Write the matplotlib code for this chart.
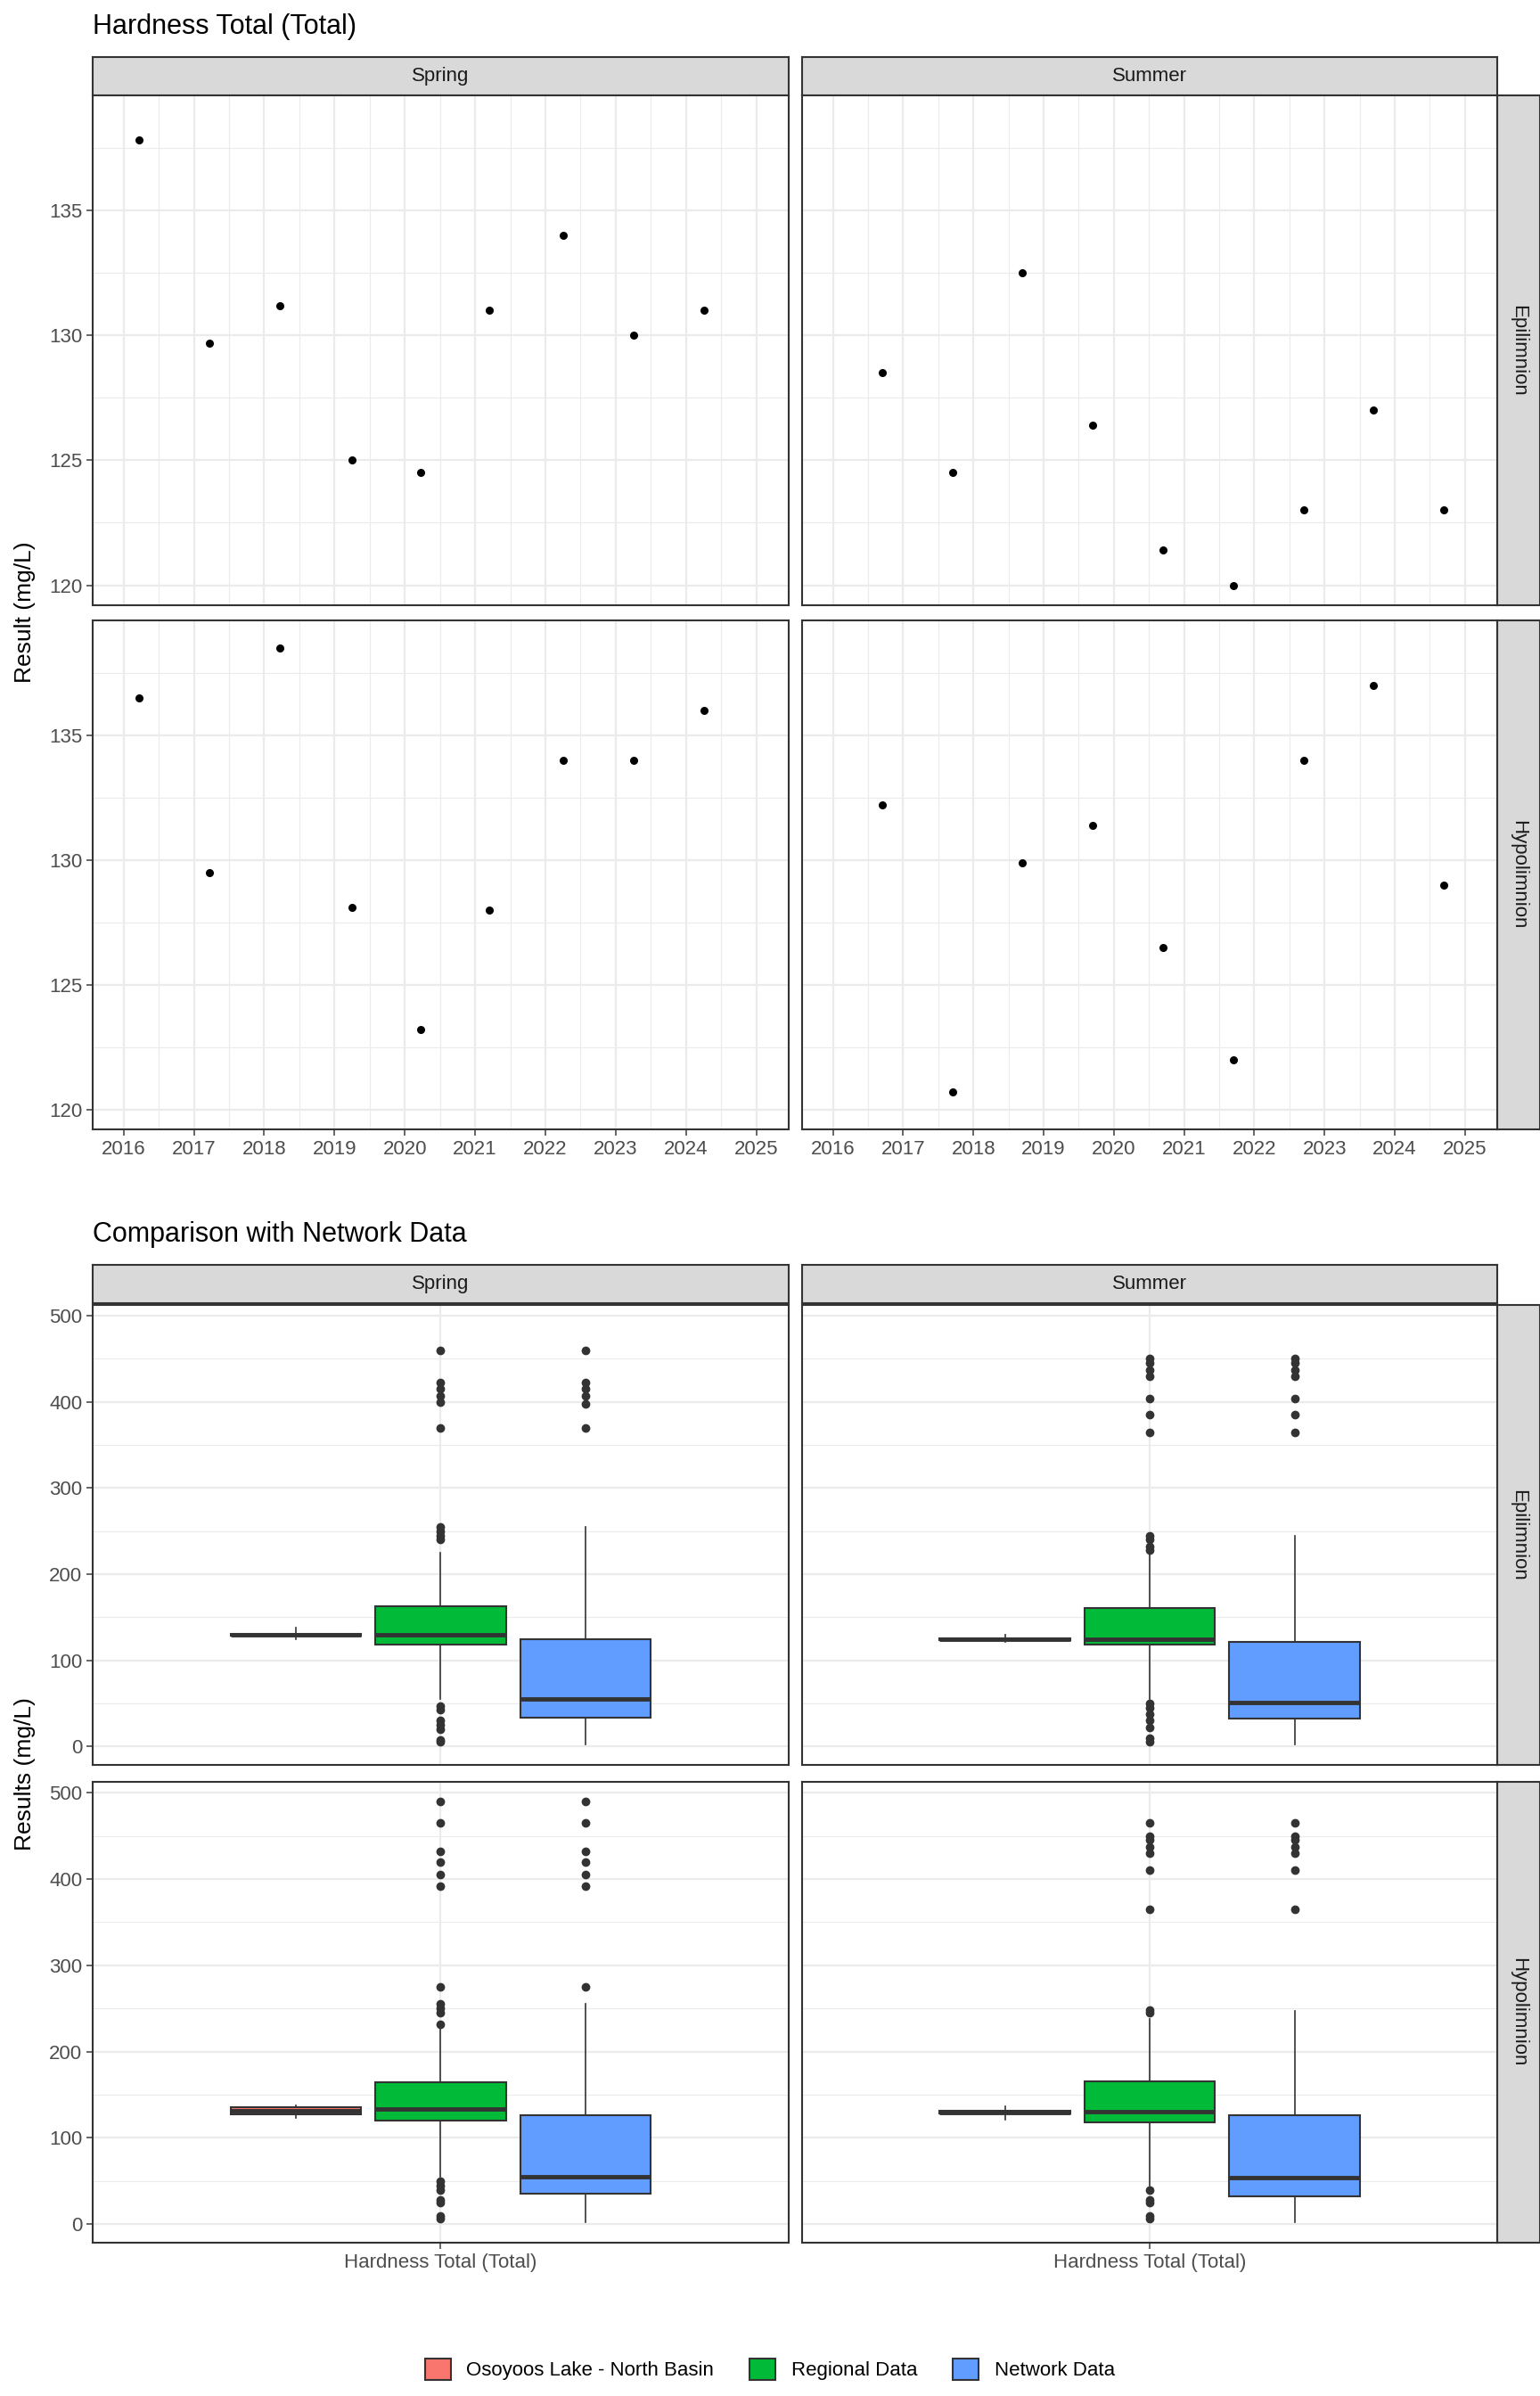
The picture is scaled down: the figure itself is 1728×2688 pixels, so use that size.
import matplotlib.pyplot as plt
import matplotlib.patches as mpatches
import numpy as np

seasons = ["Spring", "Summer"]
depths = ["Epilimnion", "Hypolimnion"]

spring_dates = [2016.22, 2017.22, 2018.22, 2019.25, 2020.22, 2021.2, 2022.25, 2023.25, 2024.25]
summer_dates = [2016.7, 2017.7, 2018.7, 2019.7, 2020.7, 2021.7, 2022.7, 2023.7, 2024.7]

hard_spring_epi = [137.8, 129.7, 131.2, 125.0, 124.5, 131.0, 134.0, 130.0, 131.0]
hard_summer_epi = [128.5, 124.5, 132.5, 126.4, 121.4, 120.0, 123.0, 127.0, 123.0]
hard_spring_hypo = [136.5, 129.5, 138.5, 128.1, 123.2, 128.0, 134.0, 134.0, 136.0]
hard_summer_hypo = [132.2, 120.7, 129.9, 131.4, 126.5, 122.0, 134.0, 137.0, 129.0]

group_names = ["Osoyoos Lake - North Basin", "Regional Data", "Network Data"]
group_colors = ["#F8766D", "#00BA38", "#619CFF"]

# box stats per panel: [whislo, q1, med, q3, whishi, outliers] for each group
box_spring_epi = [
    [124, 129, 130, 131, 138, []],
    [55, 118, 130, 163, 225, [47, 43, 30, 25, 20, 8, 5, 240, 245, 250, 255, 370, 400, 407, 415, 422, 460]],
    [2, 33, 55, 124, 255, [370, 398, 407, 415, 422, 460]],
]
box_summer_epi = [
    [121, 123, 124, 126, 130, []],
    [55, 118, 124, 161, 225, [50, 45, 38, 30, 22, 10, 5, 228, 232, 240, 245, 365, 385, 404, 430, 437, 445, 450]],
    [2, 32, 51, 121, 244, [365, 385, 404, 430, 437, 445, 450]],
]
box_spring_hypo = [
    [123, 127, 131, 136, 138, []],
    [55, 120, 134, 164, 230, [50, 45, 40, 28, 25, 10, 6, 232, 245, 250, 255, 275, 392, 405, 420, 432, 465, 490]],
    [2, 35, 55, 126, 255, [275, 392, 405, 420, 432, 465, 490]],
]
box_summer_hypo = [
    [121, 128, 129, 131, 137, []],
    [45, 118, 130, 166, 238, [40, 28, 25, 10, 6, 245, 248, 365, 410, 430, 437, 445, 450, 465]],
    [2, 32, 54, 126, 247, [365, 410, 430, 437, 445, 450, 465]],
]

scatter_data = {("Epilimnion", "Spring"): (spring_dates, hard_spring_epi),
                ("Epilimnion", "Summer"): (summer_dates, hard_summer_epi),
                ("Hypolimnion", "Spring"): (spring_dates, hard_spring_hypo),
                ("Hypolimnion", "Summer"): (summer_dates, hard_summer_hypo)}
box_data = {("Epilimnion", "Spring"): box_spring_epi,
            ("Epilimnion", "Summer"): box_summer_epi,
            ("Hypolimnion", "Spring"): box_spring_hypo,
            ("Hypolimnion", "Summer"): box_summer_hypo}

W, H = 1728, 2688
fig = plt.figure(figsize=(W / 100, H / 100), dpi=100)
plt.rcParams["font.family"] = "Liberation Sans"

def px_axes(x0, y0, x1, y1):
    return fig.add_axes([x0 / W, 1 - y1 / H, (x1 - x0) / W, (y1 - y0) / H])

def strip(x0, y0, x1, y1, text, rot=0):
    a = px_axes(x0, y0, x1, y1)
    a.set_facecolor("#D9D9D9")
    a.set_xticks([]); a.set_yticks([])
    for s in a.spines.values():
        s.set_color("#333333"); s.set_linewidth(1.5)
    a.text(0.5, 0.5, text, transform=a.transAxes, ha="center", va="center",
           rotation=rot, fontsize=16, color="#1A1A1A")

def style(ax):
    ax.set_facecolor("white")
    for s in ax.spines.values():
        s.set_color("#333333"); s.set_linewidth(1.5)
    ax.grid(True, which="major", color="#EBEBEB", linewidth=1.6)
    ax.grid(True, which="minor", color="#EBEBEB", linewidth=0.8)
    ax.set_axisbelow(True)
    ax.tick_params(labelsize=16, colors="#4D4D4D", length=5, width=1.2)
    ax.tick_params(which="minor", length=0)

col_x = [(104, 885), (900, 1680)]

# ---- top: scatter
fig.text(104 / W, 1 - 30 / H, "Hardness Total (Total)", fontsize=22, va="center", ha="left")
top_rows = [(107, 679), (696, 1267)]
for j, s in enumerate(seasons):
    strip(col_x[j][0], 64, col_x[j][1], 107, s)
for i, d in enumerate(depths):
    strip(1680, top_rows[i][0], 1728, top_rows[i][1], d, rot=-90)
    for j, s in enumerate(seasons):
        ax = px_axes(col_x[j][0], top_rows[i][0], col_x[j][1], top_rows[i][1])
        style(ax)
        xs, ys = scatter_data[(d, s)]
        ax.scatter(xs, ys, s=30, color="black", zorder=3)
        ax.set_xlim(2015.56, 2025.46)
        ax.set_ylim(119.2, 139.6)
        ax.set_xticks(range(2016, 2026))
        ax.set_xticks(np.arange(2016.5, 2025.5, 1.0), minor=True)
        ax.set_yticks([120, 125, 130, 135])
        ax.set_yticks([122.5, 127.5, 132.5, 137.5], minor=True)
        if i == 0:
            ax.tick_params(labelbottom=False, length=0, axis="x")
        if j == 1:
            ax.tick_params(labelleft=False, axis="y", length=0)
fig.text(28 / W, 1 - 687 / H, "Result (mg/L)", rotation=90, fontsize=19, va="center", ha="center")

# ---- bottom: boxplots
fig.text(104 / W, 1 - 1385 / H, "Comparison with Network Data", fontsize=22, va="center", ha="left")
bot_rows = [(1464, 1980), (1999, 2516)]
offsets = [-0.25, 0.0, 0.25]
for j, s in enumerate(seasons):
    strip(col_x[j][0], 1419, col_x[j][1], 1462, s)
for i, d in enumerate(depths):
    strip(1680, bot_rows[i][0], 1728, bot_rows[i][1], d, rot=-90)
    for j, s in enumerate(seasons):
        ax = px_axes(col_x[j][0], bot_rows[i][0], col_x[j][1], bot_rows[i][1])
        style(ax)
        for k, st in enumerate(box_data[(d, s)]):
            stats = [dict(whislo=st[0], q1=st[1], med=st[2], q3=st[3], whishi=st[4],
                          fliers=st[5])]
            ax.bxp(stats, positions=[1 + offsets[k]], widths=0.225, patch_artist=True,
                   showcaps=False,
                   boxprops=dict(facecolor=group_colors[k], edgecolor="#333333", linewidth=1.5),
                   medianprops=dict(color="#333333", linewidth=3.5),
                   whiskerprops=dict(color="#333333", linewidth=1.2),
                   flierprops=dict(marker="o", markerfacecolor="#333333",
                                   markeredgecolor="#333333", markersize=6))
        ax.set_xlim(0.4, 1.6)
        ax.set_ylim(-21.4, 512.5)
        ax.set_yticks([0, 100, 200, 300, 400, 500])
        ax.set_yticks([50, 150, 250, 350, 450], minor=True)
        ax.set_xticks([1])
        ax.set_xticklabels(["Hardness Total (Total)"])
        if i == 0:
            ax.tick_params(labelbottom=False, length=0, axis="x")
        if j == 1:
            ax.tick_params(labelleft=False, axis="y", length=0)
fig.text(28 / W, 1 - 1990 / H, "Results (mg/L)", rotation=90, fontsize=19, va="center", ha="center")

handles = [mpatches.Patch(facecolor=c, edgecolor="#333333", linewidth=1.5, label=n)
           for n, c in zip(group_names, group_colors)]
fig.legend(handles=handles, loc="center", bbox_to_anchor=(0.5, 1 - 2658 / H), ncol=3,
           frameon=False, fontsize=16, handlelength=1.3, handleheight=1.3, columnspacing=1.8)

fig.savefig("out.png", dpi=100)
